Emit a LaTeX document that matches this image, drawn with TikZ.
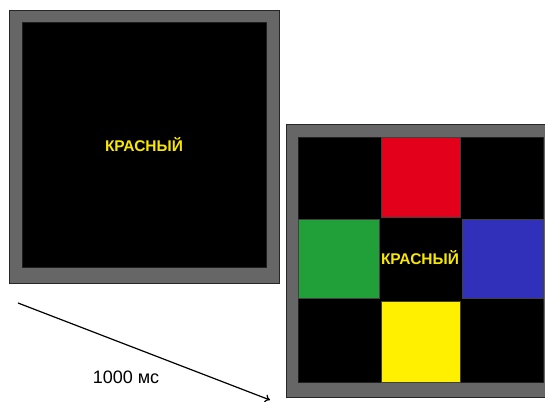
\documentclass[tikz,border=0pt]{standalone}
\usepackage{fontspec}
\setmainfont{Liberation Sans}
\usetikzlibrary{arrows.meta}
\definecolor{framegray}{HTML}{666666}
\definecolor{cred}{HTML}{E2001A}
\definecolor{cgreen}{HTML}{21A03A}
\definecolor{cblue}{HTML}{3030BB}
\definecolor{cyellow}{HTML}{FFF000}
\definecolor{wordyellow}{HTML}{F8E800}
\tikzset{
  outerframe/.style={draw=black!85, line width=0.8pt, fill=framegray, anchor=north west, inner sep=0pt, minimum width=270pt, minimum height=273pt},
  innerfield/.style={draw=black!70!framegray, line width=0.5pt, fill=black, anchor=north west, inner sep=0pt},
  cell/.style={anchor=north west, inner sep=0pt, draw=black!75, line width=0.4pt},
  word/.style={text=wordyellow, font=\bfseries\fontsize{15.5}{15.5}\selectfont, inner sep=0pt},
  timelabel/.style={font=\fontsize{18}{18}\selectfont, inner sep=0pt}
}
\begin{document}
\begin{tikzpicture}[x=1pt,y=-1pt]
\useasboundingbox (0,0) rectangle (545,401);
\clip (0,0) rectangle (545,401);
% left screen
\node[outerframe] (f1) at (9,10) {};
\node[innerfield, minimum width=244pt, minimum height=245pt] (in1) at (22,22) {};
\node[word] (w1) at (144,145) {КРАСНЫЙ};
% right screen
\node[outerframe] (f2) at (286,124) {};
\node[innerfield, minimum width=245pt, minimum height=245pt] (in2) at (298,137) {};
\node[cell, fill=cred, minimum width=79pt, minimum height=80pt] (red) at (381,137) {};
\node[cell, fill=cgreen, minimum width=81pt, minimum height=79pt] (green) at (298,219) {};
\node[cell, fill=cblue, minimum width=81pt, minimum height=79pt] (blue) at (462,219) {};
\node[cell, fill=cyellow, minimum width=79pt, minimum height=81pt] (yellow) at (381,301) {};
\node[word] (w2) at (420,258) {КРАСНЫЙ};
% arrow
\coordinate (a0) at (18,303);
\coordinate (a1) at (270,400);
\draw[line width=1.2pt, -{To[length=5pt,width=8pt]}] (a0) -- (a1);
\node[timelabel] (t) at (126,377) {1000 мс};
\end{tikzpicture}
\end{document}
